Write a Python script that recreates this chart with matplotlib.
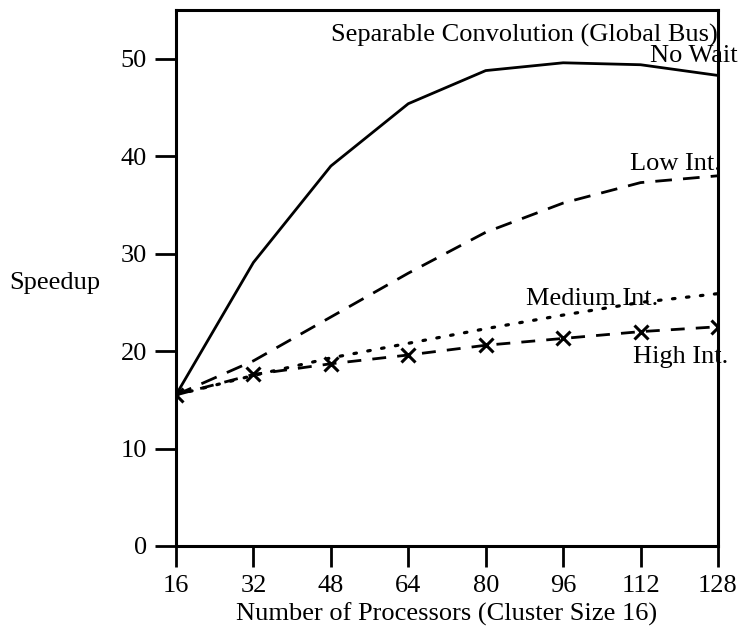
import matplotlib
matplotlib.use("Agg")
import matplotlib.pyplot as plt

# -- data ------------------------------------------------------------------------
procs      = [16, 32, 48, 64, 80, 96, 112, 128]
no_wait    = [15.5, 29.1, 39.0, 45.4, 48.8, 49.6, 49.4, 48.3]
low_int    = [15.5, 19.0, 23.5, 28.0, 32.2, 35.2, 37.3, 38.0]
medium_int = [15.5, 17.5, 19.3, 20.8, 22.3, 23.7, 25.0, 25.9]
high_int   = [15.5, 17.6, 18.7, 19.6, 20.6, 21.3, 22.0, 22.5]

x_ticks = [16, 32, 48, 64, 80, 96, 112, 128]
y_ticks = [0, 10, 20, 30, 40, 50]

plt.rcParams["font.family"] = ["Liberation Serif", "DejaVu Serif"]
plt.rcParams["font.size"] = 19

fig = plt.figure(figsize=(7.41, 6.37), dpi=100)
ax = fig.add_axes([0.2375, 0.143, 0.7315, 0.841])

lw = 2.0
ax.plot(procs, no_wait, color="black", lw=lw, solid_capstyle="butt")
ax.plot(procs, low_int, color="black", lw=lw, dashes=(6, 4))
ax.plot(procs, medium_int, color="black", lw=2.3, dashes=(0.8, 3.6),
        dash_capstyle="round")
ax.plot(procs, high_int, color="black", lw=lw, dashes=(5, 4),
        marker="x", markersize=10, markeredgewidth=2.2)

ax.set_xlim(16, 128)
ax.set_ylim(0, 55)
ax.set_xticks(x_ticks)
ax.set_yticks(y_ticks)

for s in ax.spines.values():
    s.set_linewidth(2.2)
ax.tick_params(direction="out", length=15, width=2, pad=6,
               labelsize=19, top=False, right=False)

# in-plot labels
ax.text(0.642, 52.4, "Separable Convolution (Global Bus)",
        transform=ax.get_yaxis_transform(), ha="center", va="center",
        clip_on=False)
ax.text(132, 50.3, "No Wait", ha="right", va="center", clip_on=False)
ax.text(109.8, 39.2, "Low Int.", ha="left", va="center", clip_on=False)
ax.text(88.3, 25.4, "Medium Int.", ha="left", va="center")
ax.text(110.4, 19.4, "High Int.", ha="left", va="center", clip_on=False)

ax.set_xlabel("Number of Processors (Cluster Size 16)", labelpad=4)
fig.text(0.013, 0.555, "Speedup", ha="left", va="center")

fig.savefig("out.png", dpi=100)
